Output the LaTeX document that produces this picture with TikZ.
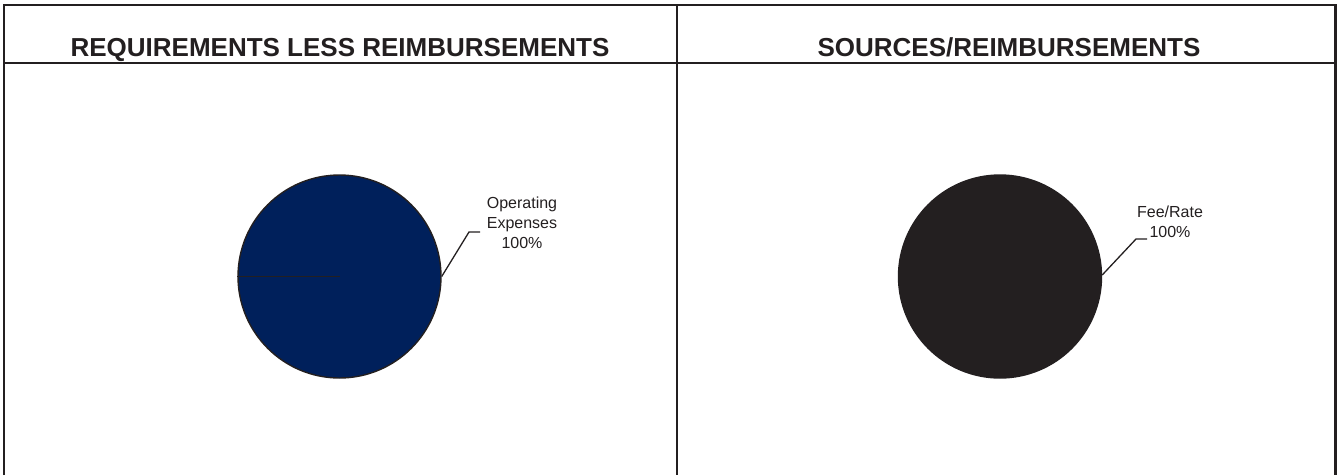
\documentclass[tikz,border=0pt]{standalone}
\usepackage{fontspec}
\setmainfont{Liberation Sans}
\definecolor{navy}{HTML}{00205B}
\definecolor{ink}{HTML}{231F20}
\begin{document}
\begin{tikzpicture}[x=1pt,y=-1pt,
  frame/.style={draw=ink,line width=2.5pt},
  title/.style={font=\fontsize{26}{30}\selectfont\bfseries,text=ink,inner sep=0pt,anchor=base},
  pie/.style={circle,draw=ink,line width=1.4pt,inner sep=0pt,minimum size=203pt},
  lbl/.style={font=\fontsize{16}{20}\selectfont,text=ink,align=center,inner sep=0pt,anchor=north},
  leader/.style={draw=ink,line width=1.3pt}]
\useasboundingbox (0,0) rectangle (1339,475);
% frame
\draw[frame] (4,475) -- (4,5) -- (1335.5,5) -- (1335.5,475);
\draw[frame] (4,63) -- (1335.5,63);
\draw[frame] (677,5) -- (677,475);
% titles
\node[title] (t1) at (340,56.5) {REQUIREMENTS LESS REIMBURSEMENTS};
\node[title] (t2) at (1009,56.5) {SOURCES/REIMBURSEMENTS};
% pies
\node[pie,fill=navy] (pieL) at (339.5,276.5) {};
\node[pie,fill=ink] (pieR) at (1000,276.5) {};
\draw[leader] (pieL.west) -- (pieL.center);
% labels
\node[lbl] (lL) at (522,197) {Operating\\Expenses\\100\%};
\node[lbl] (lR) at (1170,206) {Fee/Rate\\100\%};
\coordinate (kL) at (469,232);
\coordinate (eL) at (480,232);
\coordinate (kR) at (1136,239);
\coordinate (eR) at (1147,239);
\draw[leader] (pieL.east) -- (kL) -- (eL);
\draw[leader] ([yshift=1.5pt]pieR.east) -- (kR) -- (eR);
\end{tikzpicture}
\end{document}
